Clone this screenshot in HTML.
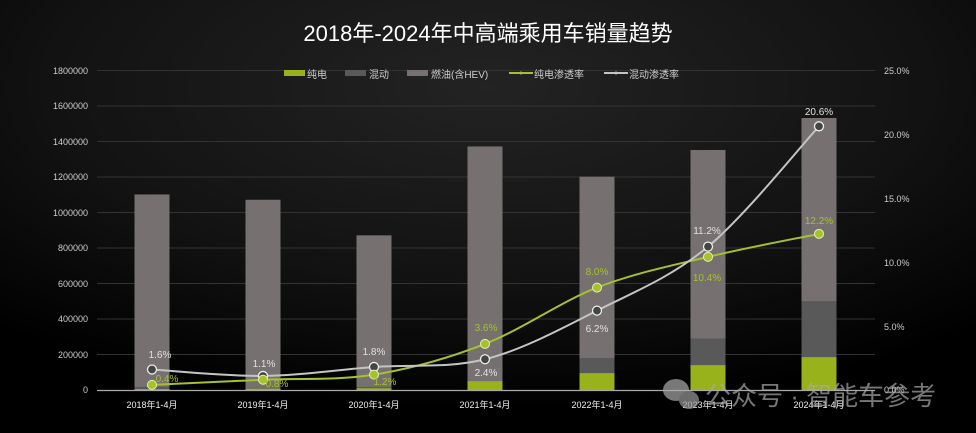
<!DOCTYPE html>
<html><head><meta charset="utf-8"><style>
html,body{margin:0;padding:0;background:#000}
svg{display:block}
text{font-family:"Liberation Sans","Noto Sans CJK SC",sans-serif}
</style></head><body>
<svg id="s" width="976" height="433" viewBox="0 0 976 433" xmlns="http://www.w3.org/2000/svg">
<defs>
<radialGradient id="bg" cx="0.5" cy="0.2" r="0.75">
<stop offset="0" stop-color="#232323"/><stop offset="0.6" stop-color="#121212"/><stop offset="1" stop-color="#000"/>
</radialGradient>
</defs>
<rect width="976" height="433" fill="url(#bg)"/>
<text x="488" y="41" text-anchor="middle" fill="#fff" font-size="22">2018年-2024年中高端乘用车销量趋势</text>
<g stroke="#333" stroke-width="1">
<line x1="97" x2="875" y1="70.5" y2="70.5"/><line x1="97" x2="875" y1="106" y2="106"/><line x1="97" x2="875" y1="141.5" y2="141.5"/><line x1="97" x2="875" y1="177" y2="177"/><line x1="97" x2="875" y1="212.5" y2="212.5"/><line x1="97" x2="875" y1="248" y2="248"/><line x1="97" x2="875" y1="283.5" y2="283.5"/><line x1="97" x2="875" y1="319" y2="319"/><line x1="97" x2="875" y1="354.5" y2="354.5"/>
</g>
<g fill="#ccc" font-size="9" text-anchor="end">
<text x="88" y="74">1800000</text><text x="88" y="109">1600000</text><text x="88" y="145">1400000</text><text x="88" y="180">1200000</text><text x="88" y="216">1000000</text><text x="88" y="251">800000</text><text x="88" y="287">600000</text><text x="88" y="322">400000</text><text x="88" y="358">200000</text><text x="88" y="393">0</text>
</g>
<g fill="#ccc" font-size="9">
<text x="884" y="74">25.0%</text><text x="884" y="138">20.0%</text><text x="884" y="202">15.0%</text><text x="884" y="266">10.0%</text><text x="884" y="330">5.0%</text><text x="884" y="393">0.0%</text>
</g>
<g id="bars"></g>
<line x1="97" x2="875" y1="390.5" y2="390.5" stroke="#aaa" stroke-width="1.2"/>
<g fill="#eee" font-size="9" text-anchor="middle">
<text x="152" y="408">2018年1-4月</text><text x="263" y="408">2019年1-4月</text><text x="374" y="408">2020年1-4月</text><text x="485" y="408">2021年1-4月</text><text x="597" y="408">2022年1-4月</text><text x="708" y="408">2023年1-4月</text><text x="819" y="408">2024年1-4月</text>
</g>
<path id="gl" fill="none" stroke="#a5c12d" stroke-width="2"/>
<path id="hl" fill="none" stroke="#c4c4c4" stroke-width="2"/>
<g id="dots"></g>
<g font-size="10" text-anchor="middle" fill="#a5c12d">
<text x="167" y="382">0.4%</text><text x="277" y="387">0.8%</text><text x="385" y="385">1.2%</text><text x="486" y="331">3.6%</text><text x="597" y="275">8.0%</text><text x="707" y="281">10.4%</text><text x="819" y="224">12.2%</text>
</g>
<g font-size="10" text-anchor="middle" fill="#e0e0e0">
<text x="160" y="358">1.6%</text><text x="264" y="367">1.1%</text><text x="374" y="355">1.8%</text><text x="486" y="376">2.4%</text><text x="597" y="332">6.2%</text><text x="707" y="234">11.2%</text><text x="819" y="115">20.6%</text>
</g>
<g font-size="10" fill="#ccc">
<rect x="284" y="70" width="21" height="6" fill="#97b21a"/><text x="307" y="78">纯电</text>
<rect x="345" y="70" width="21" height="6" fill="#595959"/><text x="369" y="78">混动</text>
<rect x="407" y="70" width="21" height="6" fill="#767170"/><text x="431" y="78">燃油(含HEV)</text>
<line x1="509" x2="533" y1="73" y2="73" stroke="#a5c12d" stroke-width="2"/><circle cx="521" cy="73" r="1.5" fill="#a5c12d"/><text x="534" y="78">纯电渗透率</text>
<line x1="604" x2="628" y1="73" y2="73" stroke="#c4c4c4" stroke-width="2"/><circle cx="616" cy="73" r="1.5" fill="#c4c4c4"/><text x="629" y="78">混动渗透率</text>
</g>
<g opacity="0.7">
<ellipse cx="676" cy="390" rx="13" ry="11" fill="#aaa"/><ellipse cx="689" cy="400" rx="10" ry="9" fill="#999"/>
<text x="705" y="405" font-size="26" fill="#aaa">公众号 · 智能车参考</text>
</g>
</svg>
<script>
var xs=[152,263,374,485,597,708,819];
var tot=[1100000,1070000,870000,1370000,1200000,1350000,1530000];
var ev=[5000,8000,10000,50000,95000,140000,185000];
var hy=[18000,12000,16000,33000,180000,290000,500000];
var Y=function(v){return 390-v*320/1800000;};
var b='';
for(var i=0;i<7;i++){var x=xs[i]-17.5;
b+='<rect x="'+x+'" y="'+Y(tot[i])+'" width="35" height="'+(390-Y(tot[i]))+'" fill="#767170"/>';
b+='<rect x="'+x+'" y="'+Y(hy[i])+'" width="35" height="'+(390-Y(hy[i]))+'" fill="#595959"/>';
b+='<rect x="'+x+'" y="'+Y(ev[i])+'" width="35" height="'+(390-Y(ev[i]))+'" fill="#97b21a"/>';}
document.getElementById('bars').innerHTML=b;
var P=function(p){return 390-p*12.8;};
var g=[0.4,0.8,1.2,3.6,8.0,10.4,12.2].map(P), h=[1.6,1.1,1.8,2.4,6.2,11.2,20.6].map(P);
function path(ys){var pts=xs.map(function(x,i){return [x,ys[i]];});var d='M'+pts[0];
for(var i=0;i<pts.length-1;i++){var p0=pts[Math.max(i-1,0)],p1=pts[i],p2=pts[i+1],p3=pts[Math.min(i+2,pts.length-1)];
var c1=[p1[0]+(p2[0]-p0[0])/6,p1[1]+(p2[1]-p0[1])/6],c2=[p2[0]-(p3[0]-p1[0])/6,p2[1]-(p3[1]-p1[1])/6];
d+=' C'+c1+' '+c2+' '+p2;}return d;}
document.getElementById('gl').setAttribute('d',path(g));
document.getElementById('hl').setAttribute('d',path(h));
var d='';
for(var i=0;i<7;i++){d+='<circle cx="'+xs[i]+'" cy="'+h[i]+'" r="4.5" fill="#444" stroke="#eee" stroke-width="1.3"/>';
d+='<circle cx="'+xs[i]+'" cy="'+g[i]+'" r="4.5" fill="#a5c12d" stroke="#e8f0b0" stroke-width="1"/>';}
document.getElementById('dots').innerHTML=d;
</script>
</body></html>
